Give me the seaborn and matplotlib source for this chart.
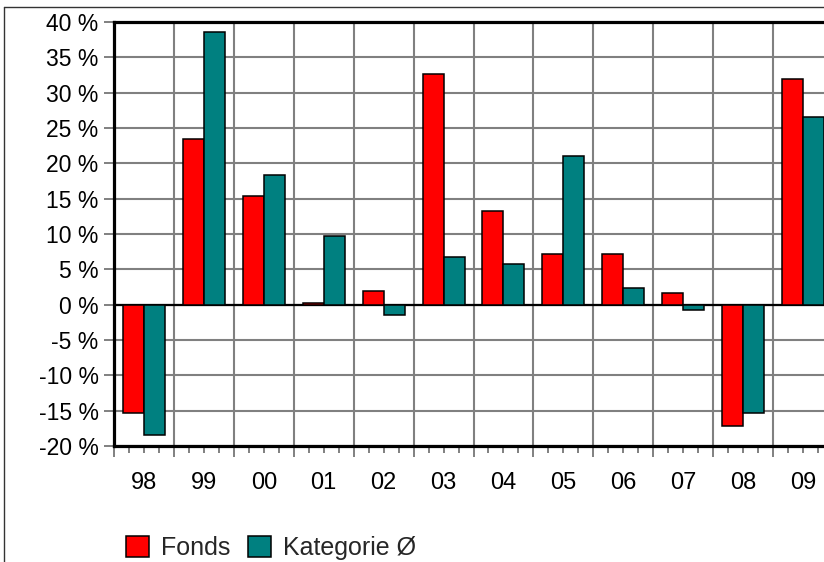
import numpy as np
import pandas as pd
import matplotlib
matplotlib.use("Agg")
import matplotlib.pyplot as plt
from matplotlib.lines import Line2D
from matplotlib.patches import Patch
from matplotlib.ticker import FixedLocator, FixedFormatter
import seaborn as sns

# data (yearly returns in %)
years = ["98", "99", "00", "01", "02", "03", "04", "05", "06", "07", "08", "09"]
fonds = [-15.3, 23.4, 15.4, 0.2, 2.0, 32.6, 13.3, 7.1, 7.1, 1.7, -17.1, 32.0]
kategorie = [-18.5, 38.6, 18.4, 9.7, -1.5, 6.8, 5.8, 21.1, 2.3, -0.7, -15.3, 26.6]
series_names = ["Fonds", "Kategorie Ø"]
y_ticks = [-20, -15, -10, -5, 0, 5, 10, 15, 20, 25, 30, 35, 40]
y_labels = ["-20 %", "-15 %", "-10 %", "-5 %", "0 %", "5 %", "10 %", "15 %",
            "20 %", "25 %", "30 %", "35 %", "40 %"]

RED = "#FF0000"
TEAL = "#008080"
GRID = "#808080"

df = pd.DataFrame({
    "year": years * 2,
    "value": fonds + kategorie,
    "series": [series_names[0]] * len(years) + [series_names[1]] * len(years),
})

sns.set_style("white")
plt.rcParams["font.family"] = ["Liberation Sans", "DejaVu Sans"]

W, H = 824, 562
fig = plt.figure(figsize=(W / 100, H / 100), dpi=100)
# plot area: left spine x=114, top y=22, bottom y=446, right edge past the picture
ax = fig.add_axes([114 / W, 1 - 446 / H, 719 / W, 424 / H])

sns.barplot(data=df, x="year", y="value", hue="series", order=years,
            hue_order=series_names, palette=[RED, TEAL], width=0.7,
            edgecolor="black", linewidth=1.1, saturation=1, ax=ax,
            legend=False, zorder=3)

n = len(years)
ax.set_xlim(-0.5, n - 0.5)
ax.set_ylim(-20, 40)
ax.set_xlabel("")
ax.set_ylabel("")

# y axis
ax.yaxis.set_major_locator(FixedLocator(y_ticks))
ax.yaxis.set_major_formatter(FixedFormatter(y_labels))
ax.tick_params(axis="y", which="major", length=7.5, width=1.4, color=GRID,
               pad=3.5, labelsize=16.5, labelcolor="black", left=True)

# x axis: short ticks at quarters, long ticks at category boundaries
quarters = []
qlabels = []
for i, yr in enumerate(years):
    for off in (-0.25, 0.0, 0.25):
        quarters.append(i + off)
        qlabels.append(yr if off == 0.0 else "")
ax.xaxis.set_major_locator(FixedLocator(quarters))
ax.xaxis.set_major_formatter(FixedFormatter(qlabels))
ax.xaxis.set_minor_locator(FixedLocator(np.arange(-0.5, n, 1.0)))
ax.tick_params(axis="x", which="major", length=5, width=1.4, color=GRID,
               pad=14, labelsize=17, labelcolor="black", bottom=True)
ax.tick_params(axis="x", which="minor", length=8, width=1.4, color=GRID,
               bottom=True)

ax.set_axisbelow(True)
ax.grid(axis="y", which="major", color=GRID, linewidth=1.5)
ax.grid(axis="x", which="minor", color=GRID, linewidth=1.5)
ax.grid(axis="x", which="major", visible=False)
ax.axhline(0, color="black", linewidth=1.6, zorder=2)

for side in ["left", "bottom", "top", "right"]:
    ax.spines[side].set_visible(True)
    ax.spines[side].set_color("black")
    ax.spines[side].set_linewidth(2.3)

# outer chart frame (cropped on right and bottom)
fig.add_artist(Line2D([4 / W, 4 / W], [1 - 7 / H, 0], transform=fig.transFigure,
                      color="#333333", linewidth=1))
fig.add_artist(Line2D([4 / W, 1], [1 - 7 / H, 1 - 7 / H], transform=fig.transFigure,
                      color="#333333", linewidth=1))

handles = [Patch(facecolor=RED, edgecolor="black", linewidth=1.1),
           Patch(facecolor=TEAL, edgecolor="black", linewidth=1.1)]
fig.legend(handles, series_names, loc="center left",
           bbox_to_anchor=(126 / W, 1 - 548 / H), ncol=2, frameon=False,
           fontsize=18, handlelength=0.92, handleheight=0.92,
           handletextpad=0.48, columnspacing=0.72, borderpad=0,
           borderaxespad=0)

fig.savefig("out.png", dpi=100)
